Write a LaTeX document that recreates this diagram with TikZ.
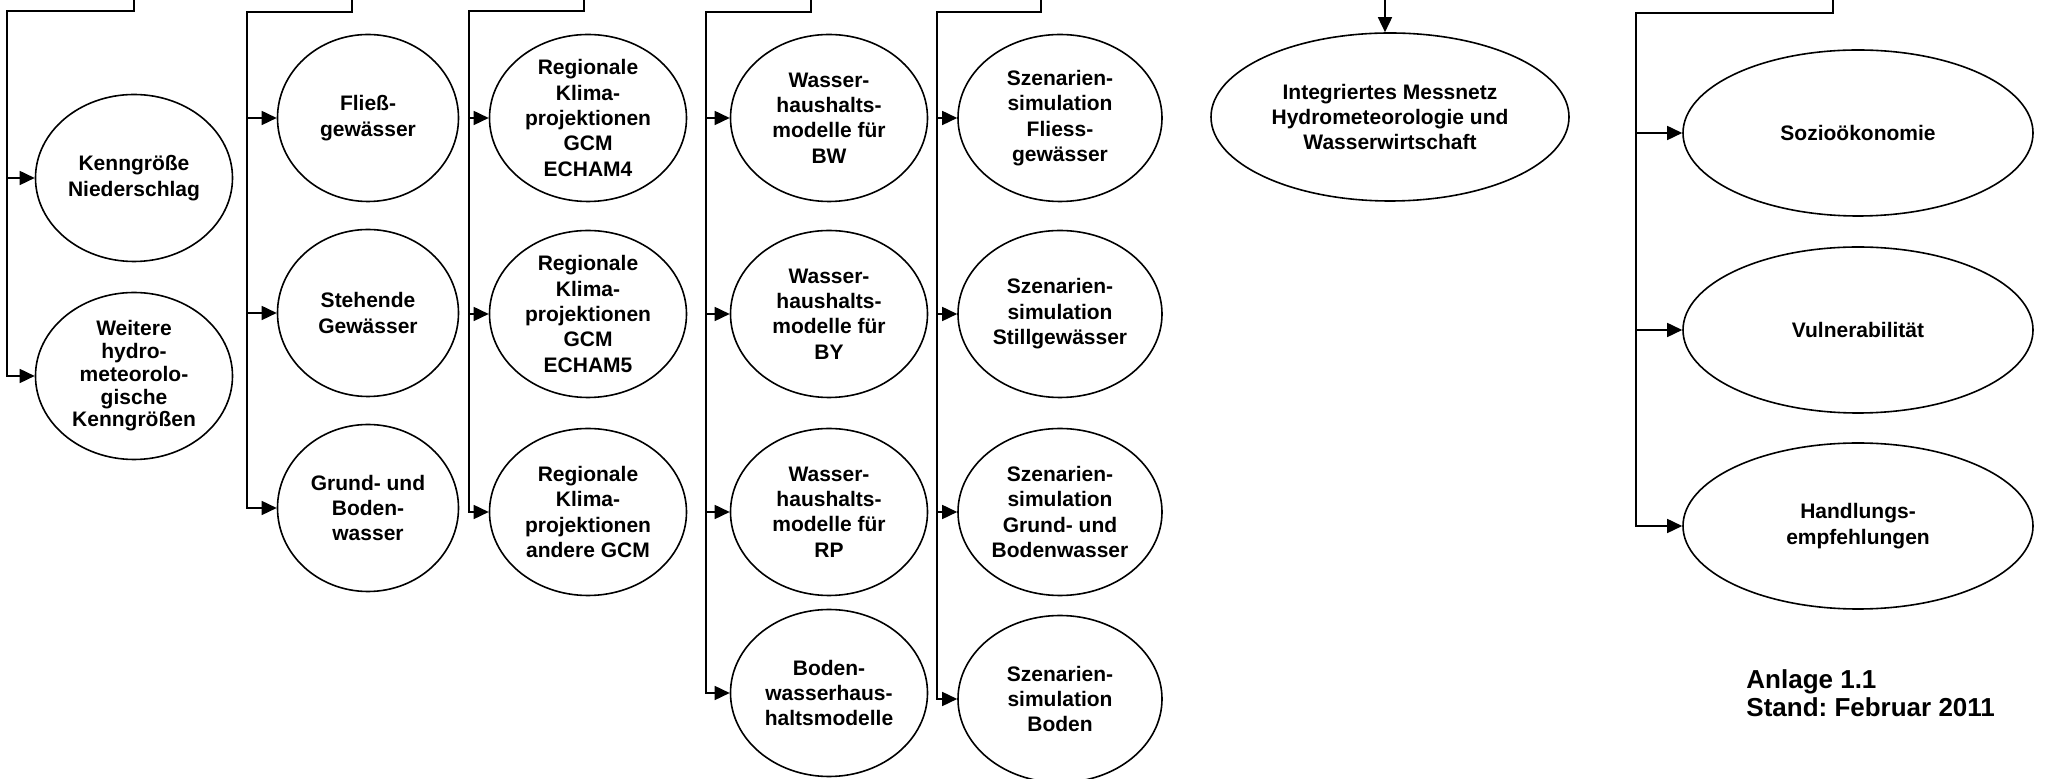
\documentclass[tikz,border=0pt]{standalone}
\usepackage{fontspec}
\setmainfont{Liberation Sans}
\frenchspacing
\usetikzlibrary{arrows.meta,shapes.geometric,calc}
\tikzset{>={Triangle[length=7.5pt,width=7pt]}}
\tikzset{
	oval/.style={ellipse, draw, line width=0.8pt, inner sep=-2pt, align=center,
		minimum width=98.5pt, minimum height=83.5pt,
		font=\fontsize{10.5}{12.7}\selectfont\bfseries},
	link/.style={line width=0.8pt}
}

\begin{document}
\begin{tikzpicture}[x=0.5pt,y=-0.5pt]
		\useasboundingbox (0,0) rectangle (2045,779);
		\node[oval] (kenn) at (134,178) {Kenngröße\\Niederschlag};
		\node[oval, font=\fontsize{10.5}{11.4}\selectfont\bfseries] (weitere) at (134,376) {Weitere\\hydro-\\meteorolo-\\gische\\Kenngrößen};
		\node[oval, minimum width=90.5pt] (fliess) at (368,118) {Fließ-\\gewässer};
		\node[oval, minimum width=90.5pt] (stehend) at (368,313) {Stehende\\Gewässer};
		\node[oval, minimum width=90.5pt] (grund) at (368,508) {Grund- und\\Boden-\\wasser};
		\node[oval] (rk4) at (588,118) {Regionale\\Klima-\\projektionen\\GCM\\ECHAM4};
		\node[oval] (rk5) at (588,314) {Regionale\\Klima-\\projektionen\\GCM\\ECHAM5};
		\node[oval] (rkand) at (588,512) {Regionale\\Klima-\\projektionen\\andere GCM};
		\node[oval] (whbw) at (829,118) {Wasser-\\haushalts-\\modelle für\\BW};
		\node[oval] (whby) at (829,314) {Wasser-\\haushalts-\\modelle für\\BY};
		\node[oval] (whrp) at (829,512) {Wasser-\\haushalts-\\modelle für\\RP};
		\node[oval] (bwhh) at (829,693) {Boden-\\wasserhaus-\\haltsmodelle};
		\node[oval, minimum width=102pt] (szfl) at (1060,118) {Szenarien-\\simulation\\Fliess-\\gewässer};
		\node[oval, minimum width=102pt] (szst) at (1060,314) {Szenarien-\\simulation\\Stillgewässer};
		\node[oval, minimum width=102pt] (szgb) at (1060,512) {Szenarien-\\simulation\\Grund- und\\Bodenwasser};
		\node[oval, minimum width=102pt] (szbo) at (1060,699) {Szenarien-\\simulation\\Boden};
		\node[oval, minimum width=179pt, minimum height=84pt] (messnetz) at (1390,117) {Integriertes Messnetz\\Hydrometeorologie und\\Wasserwirtschaft};
		\node[oval, minimum width=175pt, minimum height=83pt] (sozio) at (1858,133) {Sozioökonomie};
		\node[oval, minimum width=175pt, minimum height=83pt] (vuln) at (1858,330) {Vulnerabilität};
		\node[oval, minimum width=175pt, minimum height=83pt] (handl) at (1858,526) {Handlungs-\\empfehlungen};
		\node[anchor=base west, align=left, inner sep=0pt, font=\fontsize{13}{14}\selectfont\bfseries] (anlage) at (1746,717) {Anlage 1.1\\Stand: Februar 2011};

		\coordinate (s1) at (134,0);   \coordinate (b1) at (7,11);
		\coordinate (s2) at (352,0);   \coordinate (b2) at (247,12);
		\coordinate (s3) at (584,0);   \coordinate (b3) at (469,11);
		\coordinate (s4) at (811,0);   \coordinate (b4) at (706,12);
		\coordinate (s5) at (1041,0);  \coordinate (b5) at (937,12);
		\coordinate (s6) at (1385,0);
		\coordinate (s7) at (1833,0);  \coordinate (b7) at (1636,13);

		\draw[link,->] (s1) |- (b1) |- (weitere.west);
		\draw[link,->] (s2) |- (b2) |- (grund.west);
		\draw[link,->] (s3) |- (b3) |- (rkand.west);
		\draw[link,->] (s4) |- (b4) |- (bwhh.west);
		\draw[link,->] (s5) |- (b5) |- (szbo.west);
		\draw[link,->] (s6) -- (s6 |- messnetz.north);
		\draw[link,->] (s7) |- (b7) |- (handl.west);
		\foreach \br/\nd in {b1/kenn, b2/fliess, b2/stehend, b3/rk4, b3/rk5, b4/whbw, b4/whby, b4/whrp, b5/szfl, b5/szst, b5/szgb, b7/sozio, b7/vuln}
			\draw[link,->] (\br |- \nd.west) -- (\nd.west);
	\end{tikzpicture}
\end{document}
